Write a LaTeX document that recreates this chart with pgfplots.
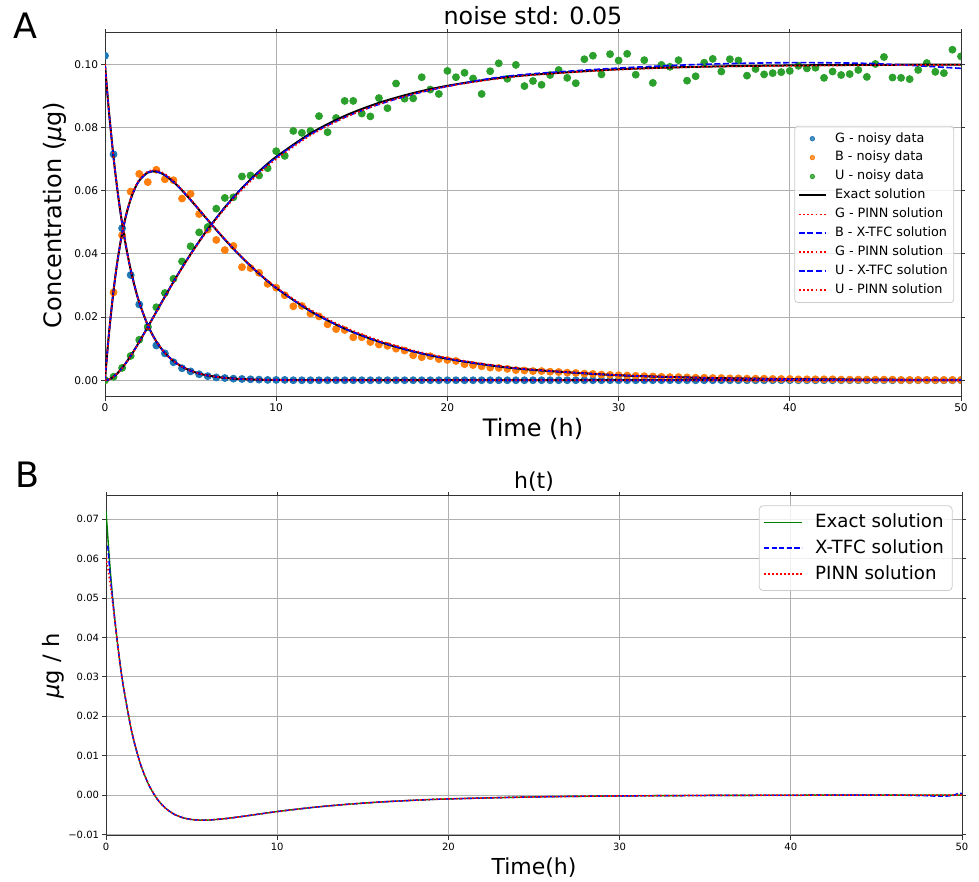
\documentclass[border=0pt]{standalone}
\usepackage{pgfplots}
\pgfplotsset{compat=1.18}
\usepackage{pgfplotstable}
\usepackage{fontspec}
\setmainfont{DejaVu Sans}
\definecolor{tabblue}{HTML}{1F77B4}
\definecolor{taborange}{HTML}{FF7F0E}
\definecolor{tabgreen}{HTML}{2CA02C}
\definecolor{mplgreen}{HTML}{008000}
\definecolor{gridgray}{HTML}{B0B0B0}

% noisy measurements, every 0.5 h
\pgfplotstableread{
t G B U
0.0 0.1027 0.0000 0.0000
0.5 0.0715 0.0278 0.0011
1.0 0.0481 0.0459 0.0039
1.5 0.0333 0.0597 0.0077
2.0 0.0240 0.0653 0.0128
2.5 0.0168 0.0627 0.0169
3.0 0.0110 0.0666 0.0231
3.5 0.0085 0.0636 0.0276
4.0 0.0057 0.0633 0.0321
4.5 0.0038 0.0575 0.0376
5.0 0.0028 0.0590 0.0424
5.5 0.0019 0.0526 0.0468
6.0 0.0013 0.0477 0.0485
6.5 0.0009 0.0444 0.0543
7.0 0.0007 0.0412 0.0577
7.5 0.0005 0.0425 0.0579
8.0 0.0004 0.0358 0.0645
8.5 0.0003 0.0355 0.0648
9.0 0.0002 0.0340 0.0648
9.5 0.0001 0.0305 0.0671
10.0 0.0001 0.0293 0.0725
10.5 0.0001 0.0269 0.0710
11.0 0.0000 0.0234 0.0789
11.5 0.0000 0.0235 0.0783
12.0 0.0000 0.0211 0.0789
12.5 0.0000 0.0202 0.0836
13.0 0.0000 0.0177 0.0785
13.5 0.0000 0.0162 0.0830
14.0 0.0000 0.0159 0.0884
14.5 0.0000 0.0136 0.0884
15.0 0.0000 0.0136 0.0844
15.5 0.0000 0.0121 0.0835
16.0 0.0000 0.0113 0.0893
16.5 0.0000 0.0109 0.0861
17.0 0.0000 0.0100 0.0939
17.5 0.0000 0.0094 0.0891
18.0 0.0000 0.0079 0.0892
18.5 0.0000 0.0073 0.0959
19.0 0.0000 0.0076 0.0920
19.5 0.0000 0.0067 0.0906
20.0 0.0000 0.0064 0.0979
20.5 0.0000 0.0061 0.0959
21.0 0.0000 0.0051 0.0973
21.5 0.0000 0.0048 0.0955
22.0 0.0000 0.0044 0.0906
22.5 0.0000 0.0040 0.0978
23.0 0.0000 0.0039 0.1003
23.5 0.0000 0.0036 0.0954
24.0 0.0000 0.0032 0.0998
24.5 0.0000 0.0031 0.0931
25.0 0.0000 0.0029 0.0947
25.5 0.0000 0.0029 0.0935
26.0 0.0000 0.0027 0.0966
26.5 0.0000 0.0026 0.0982
27.0 0.0000 0.0024 0.0957
27.5 0.0000 0.0023 0.0940
28.0 0.0000 0.0021 0.1016
28.5 0.0000 0.0020 0.1027
29.0 0.0000 0.0018 0.0968
29.5 0.0000 0.0017 0.1032
30.0 0.0000 0.0016 0.1012
30.5 0.0000 0.0015 0.1033
31.0 0.0000 0.0014 0.0967
31.5 0.0000 0.0013 0.1013
32.0 0.0000 0.0012 0.0941
32.5 0.0000 0.0011 0.0998
33.0 0.0000 0.0010 0.0992
33.5 0.0000 0.0010 0.1013
34.0 0.0000 0.0009 0.0948
34.5 0.0000 0.0008 0.0962
35.0 0.0000 0.0008 0.1005
35.5 0.0000 0.0007 0.1017
36.0 0.0000 0.0007 0.0977
36.5 0.0000 0.0006 0.1016
37.0 0.0000 0.0006 0.1012
37.5 0.0000 0.0005 0.0964
38.0 0.0000 0.0005 0.0985
38.5 0.0000 0.0005 0.0968
39.0 0.0000 0.0004 0.0972
39.5 0.0000 0.0004 0.0975
40.0 0.0000 0.0004 0.0979
40.5 0.0000 0.0003 0.0995
41.0 0.0000 0.0003 0.0987
41.5 0.0000 0.0003 0.0989
42.0 0.0000 0.0003 0.0957
42.5 0.0000 0.0003 0.0977
43.0 0.0000 0.0002 0.0966
43.5 0.0000 0.0002 0.0969
44.0 0.0000 0.0002 0.0982
44.5 0.0000 0.0002 0.0960
45.0 0.0000 0.0002 0.1001
45.5 0.0000 0.0002 0.1023
46.0 0.0000 0.0002 0.0958
46.5 0.0000 0.0001 0.0957
47.0 0.0000 0.0001 0.0953
47.5 0.0000 0.0001 0.0982
48.0 0.0000 0.0001 0.1004
48.5 0.0000 0.0001 0.0976
49.0 0.0000 0.0001 0.0972
49.5 0.0000 0.0001 0.1046
50.0 0.0000 0.0001 0.1025
}\noisy

% exact solution and the two fitted ones (Bp/Up = PINN, Ux = X-TFC)
\pgfplotstableread{
t G B U Bp Ux Up
0 0.1 0 0 0 0 0
0.1 0.09324 0.00671 0.00005 0.00671 0.00005 0.00005
0.25 0.08395 0.01576 0.00029 0.01580 0.00029 0.00029
0.5 0.07047 0.02842 0.00111 0.02850 0.00111 0.00111
0.75 0.05916 0.03850 0.00234 0.03860 0.00234 0.00234
1 0.04966 0.04645 0.00389 0.04660 0.00389 0.00385
1.25 0.04169 0.05260 0.00571 0.05280 0.00571 0.00565
1.5 0.03499 0.05729 0.00772 0.05750 0.00772 0.00765
1.75 0.02938 0.06074 0.00988 0.06100 0.00988 0.00980
2 0.02466 0.06320 0.01214 0.06350 0.01214 0.01205
2.5 0.01738 0.06575 0.01687 0.06610 0.01687 0.01675
3 0.01225 0.06606 0.02169 0.06650 0.02169 0.02155
3.5 0.00863 0.06489 0.02648 0.06530 0.02648 0.02630
4 0.00608 0.06278 0.03114 0.06310 0.03114 0.03095
4.5 0.00429 0.06009 0.03562 0.06035 0.03562 0.03540
5 0.00302 0.05707 0.03991 0.05730 0.03991 0.03965
5.5 0.00213 0.05392 0.04395 0.05410 0.04395 0.04365
6 0.00150 0.05072 0.04778 0.05090 0.04778 0.04745
7 0.00075 0.04454 0.05471 0.04470 0.05471 0.05430
8 0.00037 0.03883 0.06080 0.03900 0.06080 0.06030
9 0.00018 0.03373 0.06609 0.03390 0.06600 0.06550
10 0.00009 0.02922 0.07069 0.02945 0.07050 0.07000
12 0.00002 0.02188 0.07810 0.02230 0.07780 0.07750
14 0 0.01635 0.08365 0.01680 0.08320 0.08310
16 0 0.01222 0.08778 0.01262 0.08730 0.08740
18 0 0.00912 0.09088 0.00945 0.09050 0.09060
20 0 0.00681 0.09319 0.00705 0.09300 0.09300
22.5 0 0.00472 0.09528 0.00490 0.09550 0.09510
25 0 0.00329 0.09671 0.00340 0.09700 0.09660
30 0 0.00158 0.09842 0.00162 0.09880 0.09830
35 0 0.00076 0.09924 0.00078 0.10000 0.09920
40 0 0.00037 0.09963 0.00038 0.10050 0.09950
45 0 0.00018 0.09982 0.00019 0.10020 0.09970
50 0 0.00009 0.09991 0.00009 0.09870 0.09980
}\sol

% h(t)
\pgfplotstableread{
t h
0 0.0722
0.25 0.0570
0.5 0.04518
0.75 0.03579
1 0.02798
1.5 0.01613
2 0.00803
2.5 0.00257
3 -0.00107
3.5 -0.00343
4 -0.00491
4.5 -0.00577
5 -0.00622
5.5 -0.00638
6 -0.00635
7 -0.00598
8 -0.00541
9 -0.00480
10 -0.00420
12 -0.00318
14 -0.00239
16 -0.00178
18 -0.00133
20 -0.00099
25 -0.00048
30 -0.00023
35 -0.00011
40 -0.00005
45 -0.00003
50 -0.00001
}\hexact

\pgfplotstableread{
t h
0.1 0.0633
0.25 0.0555
0.5 0.0450
0.75 0.03570
1 0.02795
1.5 0.01613
2 0.00803
2.5 0.00257
3 -0.00107
3.5 -0.00343
4 -0.00491
4.5 -0.00577
5 -0.00622
5.5 -0.00638
6 -0.00635
7 -0.00598
8 -0.00541
9 -0.00480
10 -0.00420
12 -0.00318
14 -0.00239
16 -0.00178
18 -0.00133
20 -0.00099
25 -0.00048
30 -0.00023
35 -0.00011
40 -0.00005
45 -0.00003
46 0.00000
47 -0.00010
48 -0.00020
48.5 -0.00030
49 -0.00030
49.5 -0.00010
49.8 0.00050
50 0.00030
}\hxtfc

\pgfplotstableread{
t h
0 0.0604
0.25 0.0535
0.5 0.0448
0.75 0.03575
1 0.02800
1.5 0.01620
2 0.00810
2.5 0.00262
3 -0.00105
3.5 -0.00343
4 -0.00491
4.5 -0.00577
5 -0.00622
5.5 -0.00638
6 -0.00635
7 -0.00598
8 -0.00541
9 -0.00480
10 -0.00420
12 -0.00318
14 -0.00239
16 -0.00178
18 -0.00133
20 -0.00099
25 -0.00048
30 -0.00023
35 -0.00011
40 -0.00005
45 -0.00003
50 -0.00001
}\hpinn

\pgfplotsset{
  panel/.style={
    scale only axis, width=428pt, xmin=0, xmax=50,
    xtick={0,10,20,30,40,50},
    grid=major, major grid style={draw=gridgray, line width=0.4pt},
    axis line style={draw=black!80, line width=0.5pt},
    tick align=outside, major tick length=1.8pt,
    tick style={draw=black!80, line width=0.4pt},
    scaled y ticks=false, clip marker paths=true,
    /pgf/number format/assume math mode=true,
    legend cell align=left,
  },
  exact/.style={black, line width=1pt, smooth},
  xtfc/.style={blue, line width=0.8pt, dash pattern=on 3pt off 1.3pt, smooth},
  pinn/.style={red, line width=0.8pt, dash pattern=on 0.8pt off 1.3pt, smooth},
  pts/.style={only marks, mark=*, mark size=1.75pt},
}

\begin{document}
\begin{tikzpicture}
\useasboundingbox (0pt,0pt) rectangle (489.5pt,441pt);

% ---------- panel A ----------
\begin{axis}[panel,
  at={(52.5pt,242.5pt)}, anchor=south west, height=182pt,
  ymin=-0.0053, ymax=0.1099,
  ytick={0,0.02,0.04,0.06,0.08,0.1},
  yticklabels={0.00,0.02,0.04,0.06,0.08,0.10},
  yticklabel style={font=\fontsize{5.3}{6}\selectfont, inner sep=1.5pt},
  xticklabel style={font=\fontsize{5.3}{6}\selectfont, inner sep=1.5pt},
  title={noise std: 0.05},
  title style={font=\fontsize{11.9}{14}\selectfont, at={(0.5,1)}, anchor=base, yshift=-1.8pt, inner sep=0pt},
  xlabel={Time (h)},
  xlabel style={font=\fontsize{12}{14}\selectfont, at={(axis description cs:0.5,0)}, anchor=north, yshift=-10.5pt, inner sep=0pt},
  ylabel={Concentration ({\itshape μ}g)},
  ylabel style={font=\fontsize{12}{14}\selectfont, at={(axis description cs:-0.0584,0.5)}, anchor=center, inner sep=0pt},
  legend style={at={(0.992,0.745)}, anchor=north east,
    font=\fontsize{6.4}{7.7}\selectfont, draw=black!20, rounded corners=1.5pt,
    fill=white, fill opacity=0.8, text opacity=1, inner sep=1.5pt,
    nodes={inner sep=1.55pt},
    /tikz/every odd column/.append style={column sep=2.5pt}},
  legend image code/.code={\draw[mark repeat=2,mark phase=2,#1,mark size=1.1pt] plot coordinates {(0pt,0pt) (6.8pt,0pt) (13.6pt,0pt)};},
]
\addplot[pts, color=tabblue] table[x=t, y=G] {\noisy};
\addlegendentry{G - noisy data}
\addplot[pts, color=taborange] table[x=t, y=B] {\noisy};
\addlegendentry{B - noisy data}
\addplot[pts, color=tabgreen] table[x=t, y=U] {\noisy};
\addlegendentry{U - noisy data}

\addplot[exact] table[x=t, y=G] {\sol};
\addlegendentry{Exact solution}
\addplot[exact, forget plot] table[x=t, y=B] {\sol};
\addplot[exact, forget plot] table[x=t, y=U] {\sol};

\addplot[xtfc, forget plot] table[x=t, y=G] {\sol};
\addplot[pinn] table[x=t, y=G] {\sol};
\addlegendentry{G - PINN solution}
\addplot[xtfc] table[x=t, y=B] {\sol};
\addlegendentry{B - X-TFC solution}
\addplot[pinn] table[x=t, y=Bp] {\sol};
\addlegendentry{G - PINN solution}
\addplot[xtfc] table[x=t, y=Ux] {\sol};
\addlegendentry{U - X-TFC solution}
\addplot[pinn] table[x=t, y=Up] {\sol};
\addlegendentry{U - PINN solution}
\end{axis}

% ---------- panel B ----------
\begin{axis}[panel,
  at={(53pt,23pt)}, anchor=south west, height=170pt,
  ymin=-0.0104, ymax=0.0759,
  ytick={-0.01,0,0.01,0.02,0.03,0.04,0.05,0.06,0.07},
  yticklabels={−0.01,0.00,0.01,0.02,0.03,0.04,0.05,0.06,0.07},
  yticklabel style={font=\fontsize{5}{6}\selectfont, inner sep=1.5pt},
  xticklabel style={font=\fontsize{5}{6}\selectfont, inner sep=1.5pt},
  title={h(t)},
  title style={font=\fontsize{11}{13}\selectfont, at={(0.5,1)}, anchor=base, yshift=-2.3pt, inner sep=0pt},
  xlabel={Time(h)},
  xlabel style={font=\fontsize{11}{13}\selectfont, at={(axis description cs:0.5,0)}, anchor=north, yshift=-10.5pt, inner sep=0pt},
  ylabel={{\itshape μ}g / h},
  ylabel style={font=\fontsize{11.3}{13}\selectfont, at={(axis description cs:-0.062,0.5)}, anchor=center, inner sep=0pt},
  legend style={at={(0.989,0.9726)}, anchor=north east,
    font=\fontsize{9.1}{11}\selectfont, draw=black!20, rounded corners=2pt,
    fill=white, fill opacity=0.8, text opacity=1, inner sep=2pt,
    nodes={inner sep=2.2pt},
    /tikz/every odd column/.append style={column sep=4pt}},
  legend image code/.code={\draw[#1] plot coordinates {(0pt,0pt) (9.5pt,0pt) (19pt,0pt)};},
]
\addplot[mplgreen, line width=0.7pt, smooth] table[x=t, y=h] {\hexact};
\addlegendentry{Exact solution}
\addplot[blue, line width=0.7pt, dash pattern=on 2.6pt off 1.2pt, smooth] table[x=t, y=h] {\hxtfc};
\addlegendentry{X-TFC solution}
\addplot[red, line width=0.8pt, dash pattern=on 0.8pt off 1.2pt, smooth] table[x=t, y=h] {\hpinn};
\addlegendentry{PINN solution}
\end{axis}

\node[font=\fontsize{17.5}{20}\selectfont, inner sep=0pt] at (12.5pt,428pt) {A};
\node[font=\fontsize{17.5}{20}\selectfont, inner sep=0pt] at (13.75pt,203.5pt) {B};
\end{tikzpicture}
\end{document}
